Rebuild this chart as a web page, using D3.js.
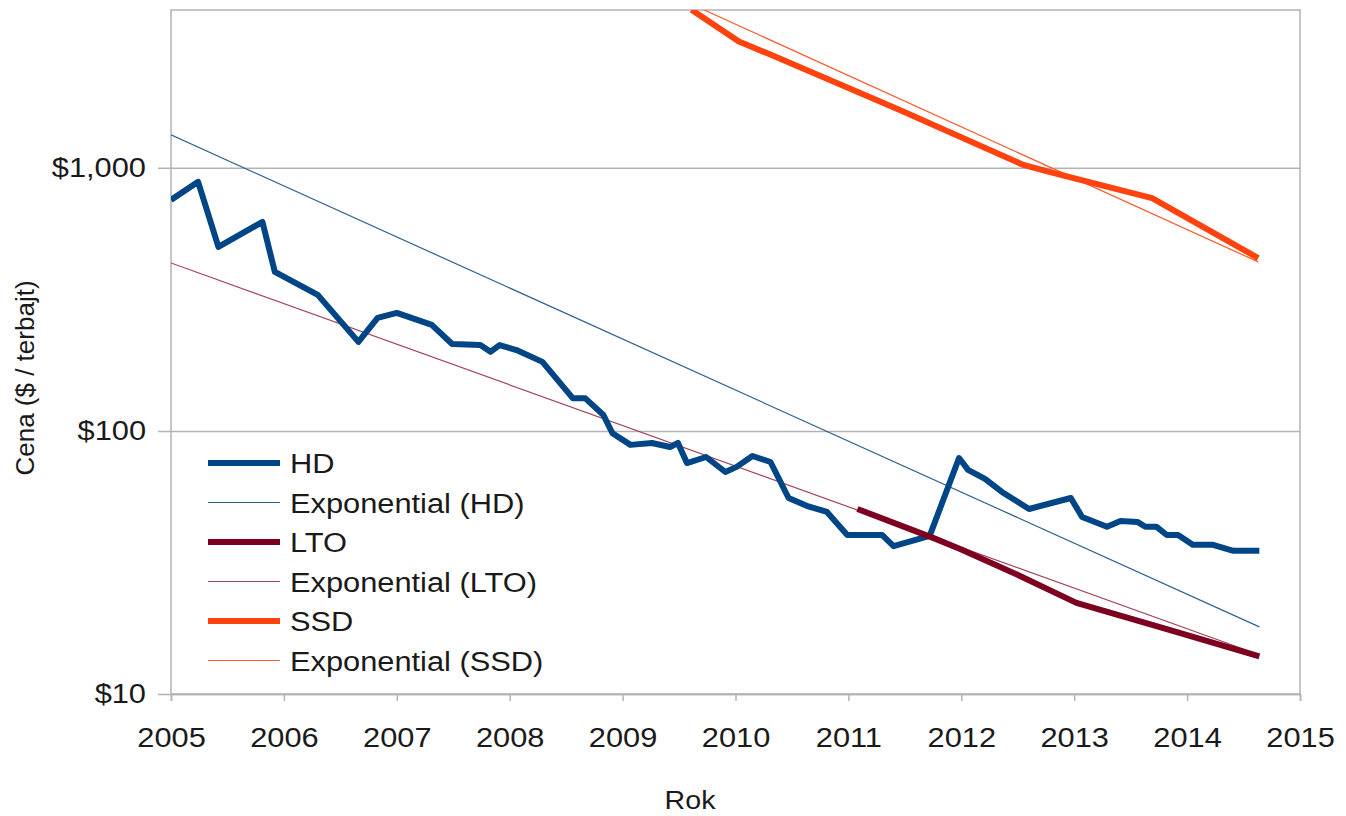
<!DOCTYPE html>
<html>
<head>
<meta charset="utf-8">
<script src="https://cdn.jsdelivr.net/npm/d3@7/dist/d3.min.js"></script>
<style>
  html, body { margin: 0; padding: 0; background: #ffffff; }
  svg { display: block; }
  text { font-family: "Liberation Sans", Arial, sans-serif; fill: #1a1a1a; }
</style>
</head>
<body>
<svg id="chart" width="1346" height="816"></svg>
<script>
// ---- Data ----
const hdDates = [2005.00, 2005.24, 2005.42, 2005.81, 2005.92, 2006.30, 2006.66, 2006.83, 2007.00, 2007.31,
  2007.49, 2007.74, 2007.83, 2007.91, 2008.06, 2008.29, 2008.56, 2008.67, 2008.83, 2008.91,
  2009.07, 2009.26, 2009.42, 2009.49, 2009.57, 2009.74, 2009.91, 2010.01, 2010.15, 2010.31,
  2010.47, 2010.63, 2010.81, 2010.99, 2011.30, 2011.40, 2011.72, 2011.98, 2012.06, 2012.21,
  2012.36, 2012.60, 2012.97, 2013.07, 2013.29, 2013.41, 2013.56, 2013.63, 2013.73, 2013.82,
  2013.92, 2014.05, 2014.23, 2014.41, 2014.64];
const hdValues = [755, 885, 501, 623, 402, 329, 218, 269, 281, 253,
  214, 212, 200, 212, 203, 183, 133, 133, 115, 98,
  88.5, 90, 86.9, 90, 75.5, 79.6, 69.8, 73.0, 80.3, 76.2,
  55.6, 51.9, 49.2, 40.2, 40.2, 36.5, 39.9, 78.9, 71.1, 65.7,
  58.6, 50.5, 55.6, 47.1, 43.2, 45.5, 45.1, 43.2, 43.2, 40.2,
  40.2, 36.9, 36.9, 35.0, 35.0];

const ltoDates = [2011.08, 2011.75, 2011.99, 2012.52, 2013.02, 2013.85, 2014.64];
const ltoValues = [50.5, 39.2, 35.6, 28.1, 22.2, 17.5, 13.9];

const ssdDates = [2009.61, 2010.03, 2010.35, 2011.45, 2012.55, 2012.77, 2013.29, 2013.69, 2014.63];
const ssdValues = [3990, 3020, 2650, 1662, 1026, 968, 849, 767, 454];

// Exponential trend lines: [start, end] dates and values
const hdTrendDates = [2005.00, 2014.64];
const hdTrendValues = [1334, 18.0];
const ltoTrendDates = [2005.00, 2014.64];
const ltoTrendValues = [435, 14.1];
const ssdTrendDates = [2009.61, 2014.63];
const ssdTrendValues = [4190, 439];

const xTicks = [2005, 2006, 2007, 2008, 2009, 2010, 2011, 2012, 2013, 2014, 2015];
const yTicks = [10, 100, 1000];
const yTickLabels = ["$10", "$100", "$1,000"];

const legendLabels = ["HD", "Exponential (HD)", "LTO", "Exponential (LTO)", "SSD", "Exponential (SSD)"];

(function () {
  // ---- Layout ----
  const pL = 171, pR = 1300, pT = 10, pB = 694;
  const sx = 1.1; // horizontal text stretch seen in the reference
  const svg = d3.select("#chart");

  const x = d3.scaleLinear().domain([2005, 2015]).range([pL, pR]);
  const y = d3.scaleLog().domain([10, Math.pow(10, 3.6)]).range([pB, pT]);

  const gridColor = "#b3b3b3";
  const HD = "#004586", LTO = "#7e0021", SSD = "#ff420e";
  const HDt = "#2f6190", LTOt = "#a5405a", SSDt = "#ff5a2a";

  svg.append("defs").append("clipPath").attr("id", "plotclip")
    .append("rect").attr("x", pL).attr("y", pT).attr("width", pR - pL).attr("height", pB - pT);

  // Gridlines (horizontal) with tick labels
  const yAxis = d3.axisLeft(y).tickValues(yTicks).tickFormat((d, i) => yTickLabels[i])
    .tickSize(-(pR - pL)).tickPadding(12);
  const gy = svg.append("g").attr("transform", `translate(${pL},0)`).call(yAxis);
  gy.select(".domain").remove();
  gy.selectAll(".tick line").attr("stroke", gridColor).attr("stroke-width", 1.5).attr("x1", -13);
  gy.selectAll(".tick text").attr("font-size", 28).attr("fill", "#1a1a1a")
    .attr("x", -25 / sx).attr("transform", `scale(${sx},1)`);

  // frame
  svg.append("rect").attr("x", pL).attr("y", pT).attr("width", pR - pL).attr("height", pB - pT)
    .attr("fill", "none").attr("stroke", gridColor).attr("stroke-width", 1.5);

  // X axis
  const xAxis = d3.axisBottom(x).tickValues(xTicks).tickFormat(d3.format("d")).tickSize(7).tickPadding(26);
  const gx = svg.append("g").attr("transform", `translate(0,${pB})`).call(xAxis);
  gx.select(".domain").attr("stroke", gridColor).attr("stroke-width", 1.5);
  gx.selectAll(".tick line").attr("stroke", gridColor).attr("stroke-width", 1.5);
  gx.selectAll(".tick text").attr("font-size", 28).attr("fill", "#1a1a1a")
    .attr("transform", `scale(${sx},1)`);

  // Lines
  const plot = svg.append("g").attr("clip-path", "url(#plotclip)");
  const line = d3.line().x(d => x(d[0])).y(d => y(d[1]));
  const zip = (a, b) => a.map((v, i) => [v, b[i]]);

  const trends = [[hdTrendDates, hdTrendValues, HDt], [ltoTrendDates, ltoTrendValues, LTOt], [ssdTrendDates, ssdTrendValues, SSDt]];
  trends.forEach(t => {
    plot.append("path").datum(zip(t[0], t[1])).attr("d", line)
      .attr("fill", "none").attr("stroke", t[2]).attr("stroke-width", 1.2);
  });
  const series = [[hdDates, hdValues, HD], [ltoDates, ltoValues, LTO], [ssdDates, ssdValues, SSD]];
  series.forEach(s => {
    plot.append("path").datum(zip(s[0], s[1])).attr("d", line)
      .attr("fill", "none").attr("stroke", s[2]).attr("stroke-width", 6).attr("stroke-linejoin", "round");
  });

  // Legend
  const legendColors = [HD, HDt, LTO, LTOt, SSD, SSDt];
  const legendWidths = [6, 1.2, 6, 1.2, 6, 1.2];
  const lg = svg.append("g");
  legendLabels.forEach((lab, i) => {
    const yy = 463 + i * 39.5;
    lg.append("line").attr("x1", 208).attr("x2", 280).attr("y1", yy).attr("y2", yy)
      .attr("stroke", legendColors[i]).attr("stroke-width", legendWidths[i]);
    lg.append("text").attr("transform", `translate(290,${yy}) scale(${sx},1)`).attr("dy", "0.36em")
      .attr("font-size", 28).text(lab);
  });

  // Axis titles
  svg.append("text").attr("transform", `translate(690,809) scale(${sx},1)`).attr("text-anchor", "middle")
    .attr("font-size", 26).text("Rok");
  svg.append("text").attr("transform", "translate(34,378) rotate(-90)").attr("text-anchor", "middle")
    .attr("font-size", 26).text("Cena ($ / terbajt)");
})();
</script>
</body>
</html>
